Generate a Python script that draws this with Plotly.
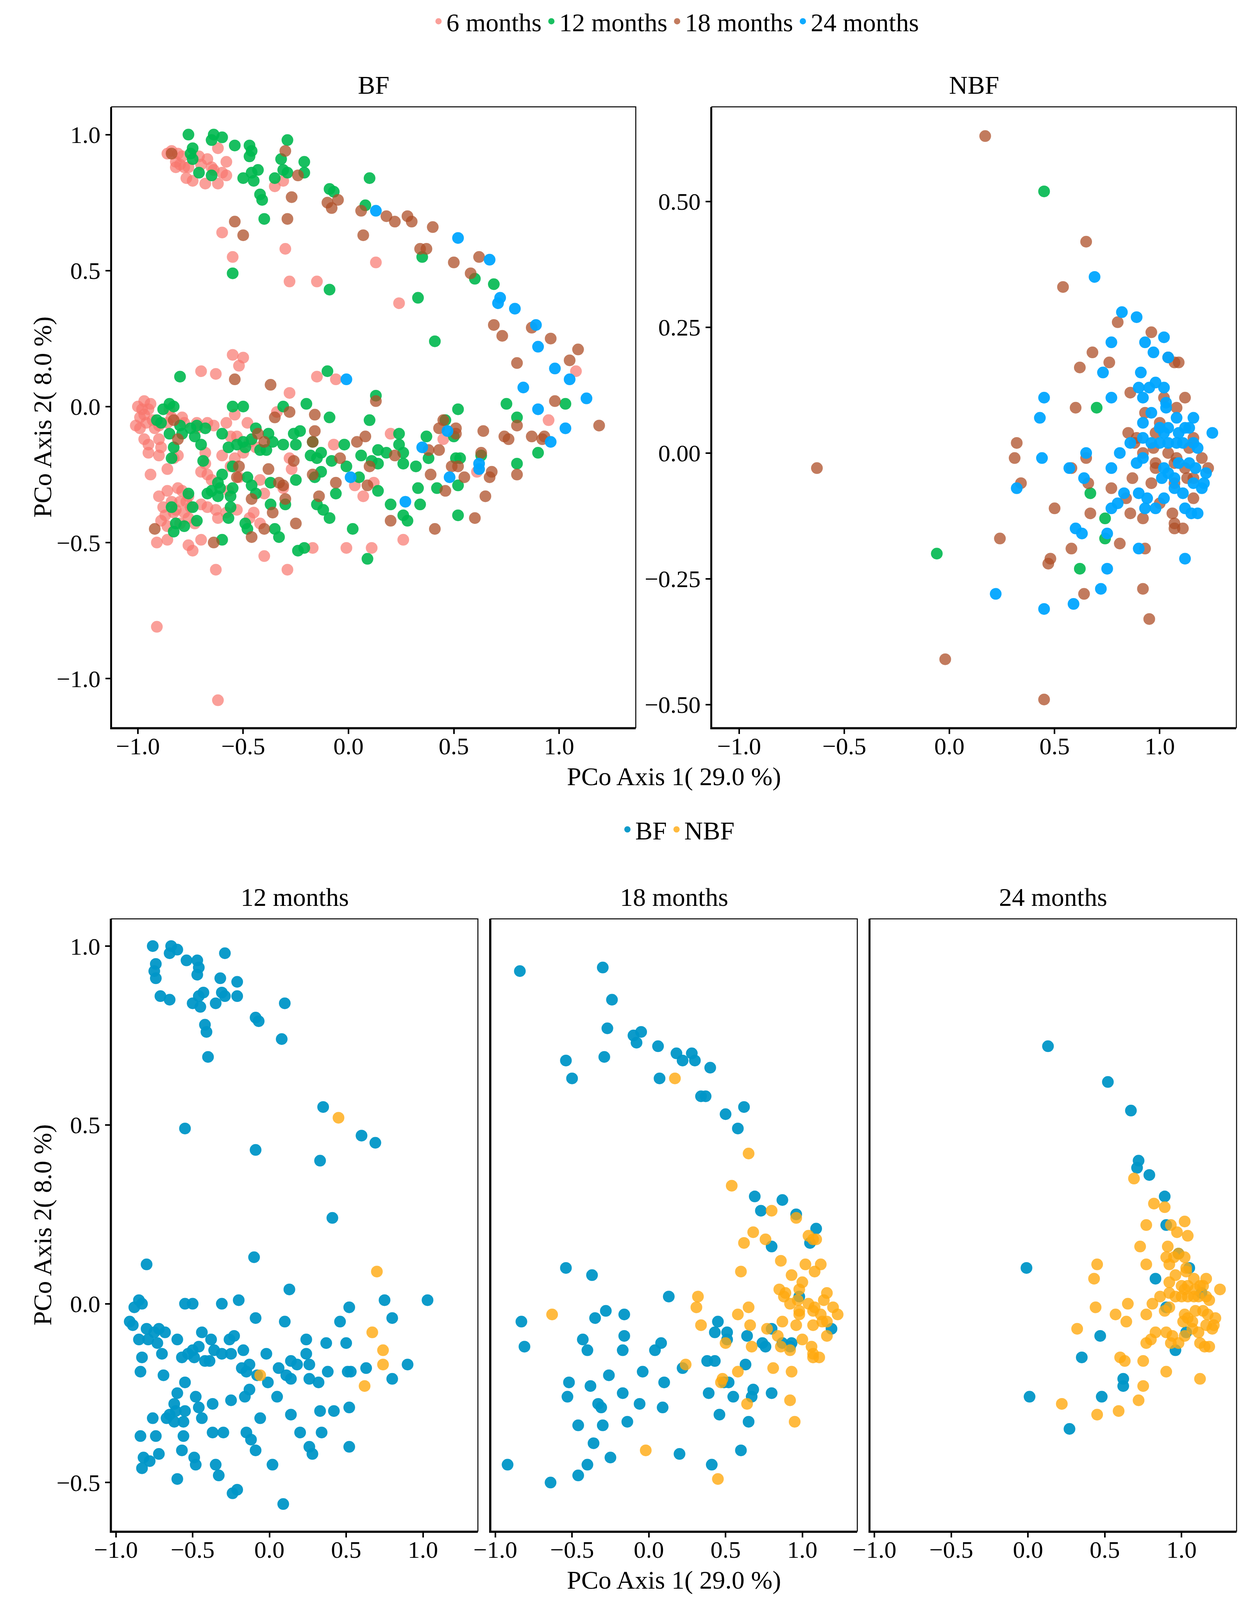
import plotly.graph_objects as go

# PCoA coordinates (axis 1, axis 2), per age and feeding group
BF_6M = [(-0.86,0.93),(-0.84,0.94),(-0.81,0.93),(-0.79,0.92),(-0.82,0.90),(-0.80,0.89),(-0.82,0.88),(-0.78,0.88),
         (-0.76,0.88),(-0.71,0.92),(-0.67,0.91),(-0.70,0.89),(-0.65,0.88),(-0.64,0.87),(-0.60,0.86),(-0.58,0.85),
         (-0.77,0.84),(-0.74,0.83),(-0.68,0.82),(-0.62,0.82),(-0.58,0.90),(-0.62,0.95),(-0.31,0.83),(-0.35,0.81),
         (-0.60,0.64),(-0.55,0.55),(-0.30,0.58),(-0.28,0.46),(-0.15,0.46),(0.13,0.53),(0.24,0.38),(1.08,0.13),
         (-0.55,0.19),(-0.50,0.18),(-0.52,0.15),(-0.70,0.13),(-0.63,0.12),(-0.15,0.11),(-0.06,0.10),(-0.28,0.05),
         (-1.00,0.00),(-0.97,0.02),(-0.98,-0.01),(-0.95,-0.01),(-0.97,-0.03),(-0.94,0.01),(-0.99,-0.04),(-1.01,-0.07),
         (-0.99,-0.08),(-0.96,-0.06),(-0.93,-0.05),(-0.90,-0.07),(-0.92,-0.08),(-0.86,-0.06),(-0.84,-0.04),(-0.79,-0.04),
         (-0.78,-0.06),(-0.85,-0.01),(-0.95,-0.14),(-0.97,-0.12),(-0.89,-0.15),(-0.90,-0.12),(-0.95,-0.17),(-0.90,-0.18),
         (-0.83,-0.19),(-0.81,-0.18),(-0.94,-0.25),(-0.86,-0.23),(-0.67,-0.06),(-0.64,-0.07),(-0.58,-0.06),(-0.72,-0.06),
         (-0.72,-0.08),(-0.68,-0.17),(-0.68,-0.21),(-0.67,-0.25),(-0.65,-0.27),(-0.60,-0.18),(-0.56,-0.11),(-0.54,-0.03),
         (-0.48,-0.06),(-0.54,-0.19),(-0.56,-0.22),(-0.52,-0.26),(-0.57,-0.31),(-0.90,-0.33),(-0.86,-0.31),(-0.81,-0.30),
         (-0.79,-0.31),(-0.76,-0.33),(-0.88,-0.37),(-0.84,-0.35),(-0.80,-0.35),(-0.77,-0.35),(-0.82,-0.38),(-0.78,-0.39),
         (-0.83,-0.39),(-0.75,-0.37),(-0.87,-0.40),(-0.89,-0.42),(-0.86,-0.44),(-0.80,-0.43),(-0.76,-0.41),(-0.73,-0.43),
         (-0.70,-0.36),(-0.67,-0.37),(-0.63,-0.38),(-0.62,-0.41),(-0.58,-0.39),(-0.53,-0.38),(-0.91,-0.50),(-0.86,-0.49),
         (-0.76,-0.51),(-0.74,-0.53),(-0.70,-0.49),(-0.63,-0.60),(-0.47,-0.41),(-0.45,-0.39),(-0.42,-0.43),(-0.40,-0.55),
         (-0.29,-0.60),(-0.17,-0.52),(-0.01,-0.52),(0.11,-0.52),(0.26,-0.49),(-0.91,-0.81),(-0.62,-1.08),(-0.40,-0.32),
         (-0.34,-0.02),(-0.28,-0.19),(-0.27,-0.23),(-0.07,-0.14),(0.03,-0.29),(0.07,-0.33),(0.20,-0.10),(0.45,-0.12),
         (0.95,-0.05),(0.61,-0.24),(0.12,-0.28),(-0.31,-0.30),(-0.42,-0.27),(-0.50,-0.17),(-0.44,-0.15),(-0.53,-0.11),
         (-0.47,-0.13),(-0.70,-0.24)]

BF_12M = [(-0.76,1.00),(-0.64,1.00),(-0.65,0.98),(-0.60,0.99),(-0.54,0.96),(-0.47,0.96),(-0.46,0.94),(-0.47,0.92),
          (-0.29,0.98),(-0.74,0.95),(-0.75,0.93),(-0.74,0.91),(-0.71,0.86),(-0.65,0.85),(-0.50,0.84),(-0.45,0.83),
          (-0.46,0.86),(-0.43,0.87),(-0.35,0.84),(-0.32,0.91),(-0.31,0.87),(-0.29,0.86),(-0.21,0.90),(-0.21,0.86),
          (-0.42,0.78),(-0.41,0.76),(-0.40,0.69),(-0.09,0.80),(-0.07,0.79),(0.10,0.84),(0.08,0.74),(-0.55,0.49),
          (-0.09,0.43),(0.35,0.55),(0.33,0.40),(0.60,0.47),(0.69,0.45),(0.41,0.24),(-0.80,0.11),(-0.10,0.13),
          (0.13,0.04),(1.03,0.01),(-0.85,0.01),(-0.83,0.00),(-0.88,-0.01),(-0.91,-0.05),(-0.89,-0.06),(-0.80,-0.07),
          (-0.79,-0.10),(-0.85,-0.10),(-0.75,-0.08),(-0.72,-0.07),(-0.73,-0.11),(-0.70,-0.14),(-0.68,-0.08),(-0.60,-0.10),
          (-0.83,-0.15),(-0.84,-0.19),(-0.69,-0.20),(-0.55,0.00),(-0.50,0.00),(-0.44,-0.08),(-0.38,-0.10),(-0.46,-0.12),
          (-0.50,-0.13),(-0.53,-0.14),(-0.57,-0.15),(-0.49,-0.15),(-0.42,-0.16),(-0.39,-0.16),(-0.36,-0.13),(-0.31,0.00),
          (-0.31,-0.14),(-0.26,-0.10),(-0.23,-0.09),(-0.25,-0.14),(-0.20,0.01),(-0.09,-0.04),(-0.17,-0.13),(-0.13,-0.17),
          (-0.18,-0.18),(-0.15,-0.19),(-0.02,-0.14),(-0.08,-0.20),(-0.01,-0.22),(0.10,-0.05),(0.06,-0.18),(0.11,-0.20),
          (0.14,-0.16),(0.14,-0.21),(0.18,-0.17),(0.24,-0.10),(0.24,-0.14),(0.26,-0.17),(0.26,-0.21),(0.32,-0.22),
          (0.37,-0.11),(0.38,-0.19),(0.52,-0.01),(0.46,-0.05),(0.50,-0.11),(0.51,-0.19),(0.53,-0.19),(0.63,-0.18),
          (0.75,0.01),(0.80,-0.04),(0.80,-0.21),(0.90,-0.17),(-0.60,-0.25),(-0.55,-0.22),(-0.62,-0.28),(-0.61,-0.30),
          (-0.56,-0.33),(-0.55,-0.30),(-0.67,-0.32),(-0.62,-0.33),(-0.65,-0.31),(-0.56,-0.37),(-0.74,-0.37),(-0.76,-0.32),
          (-0.84,-0.37),(-0.82,-0.43),(-0.83,-0.46),(-0.78,-0.44),(-0.72,-0.42),(-0.57,-0.41),(-0.49,-0.43),(-0.48,-0.45),
          (-0.35,-0.45),(-0.33,-0.48),(-0.60,-0.49),(-0.48,-0.26),(-0.46,-0.29),(-0.44,-0.32),(-0.37,-0.28),(-0.25,-0.27),
          (-0.37,-0.36),(-0.30,-0.36),(-0.16,-0.26),(-0.13,-0.24),(-0.15,-0.36),(-0.12,-0.38),(-0.09,-0.41),(-0.06,-0.32),
          (0.05,-0.26),(0.02,-0.45),(0.14,-0.31),(0.20,-0.36),(0.26,-0.40),(0.28,-0.42),(0.33,-0.30),(0.34,-0.36),
          (0.42,-0.30),(0.52,-0.29),(0.52,-0.40),(-0.24,-0.53),(-0.21,-0.52),(0.09,-0.56)]

NBF_12M = [(0.45,0.52),(0.70,0.09),(0.67,-0.08),(0.74,-0.13),(0.74,-0.17),(0.62,-0.23),(-0.06,-0.20)]

BF_18M = [(-0.30,0.94),(-0.24,0.85),(-0.27,0.77),(-0.10,0.75),(-0.05,0.76),(-0.08,0.73),(-0.29,0.69),(-0.54,0.68),
          (-0.50,0.63),(0.06,0.72),(0.18,0.70),(0.22,0.68),(0.28,0.70),(0.30,0.68),(0.40,0.66),(0.07,0.63),
          (0.34,0.58),(0.37,0.58),(0.50,0.53),(0.62,0.55),(0.58,0.49),(0.69,0.30),(0.73,0.26),(0.87,0.29),
          (0.96,0.25),(1.09,0.21),(0.80,0.16),(1.05,0.17),(-0.54,0.10),(-0.37,0.08),(0.98,0.02),(0.13,0.02),
          (-0.84,0.93),(-0.35,-0.04),(-0.28,-0.02),(-0.16,-0.03),(-0.16,-0.09),(-0.17,-0.13),(-0.43,-0.10),(-0.40,-0.13),
          (-0.83,-0.05),(-0.81,-0.12),(-0.52,-0.22),(-0.53,-0.26),(-0.46,-0.34),(-0.46,-0.48),(-0.64,-0.50),(-0.92,-0.45),
          (-0.38,-0.23),(-0.33,-0.28),(-0.31,-0.29),(-0.30,-0.34),(-0.36,-0.39),(-0.40,-0.45),(-0.25,-0.43),(-0.26,-0.20),
          (-0.17,-0.25),(-0.14,-0.33),(-0.06,-0.28),(-0.04,-0.19),(0.04,-0.13),(0.08,-0.11),(0.10,-0.22),(0.09,-0.29),
          (0.22,-0.18),(0.20,-0.42),(0.38,-0.16),(0.43,-0.16),(0.43,-0.08),(0.45,-0.05),(0.51,-0.08),(0.51,-0.10),
          (0.49,-0.22),(0.52,-0.22),(0.39,-0.25),(0.55,-0.26),(0.46,-0.31),(0.41,-0.45),(0.60,-0.41),(0.63,-0.17),
          (0.64,-0.09),(0.65,-0.33),(0.68,-0.24),(0.67,-0.26),(0.74,-0.11),(0.76,-0.12),(0.80,-0.07),(0.80,-0.25),
          (0.87,-0.11),(0.92,-0.12),(0.93,-0.11),(1.19,-0.07)]

NBF_18M = [(0.17,0.63),(0.65,0.42),(0.54,0.33),(0.80,0.26),(0.96,0.24),(0.68,0.20),(0.62,0.17),(0.76,0.18),
           (1.04,0.19),(1.07,0.18),(1.09,0.18),(0.86,0.12),(1.02,0.11),(1.12,0.11),(0.60,0.09),(1.08,0.09),
           (0.93,0.08),(0.98,0.04),(1.00,0.06),(0.85,0.04),(0.89,0.03),(1.16,0.03),(0.88,0.02),(0.97,0.01),
           (0.92,0.00),(0.32,0.02),(0.31,-0.01),(0.65,-0.01),(1.04,0.00),(1.14,0.01),(0.98,-0.02),(1.08,-0.01),
           (1.20,-0.01),(0.58,-0.03),(0.98,-0.03),(1.07,-0.02),(1.12,-0.03),(1.23,-0.03),(1.13,-0.05),(1.16,-0.05),
           (0.66,-0.06),(0.87,-0.05),(0.96,-0.06),(0.77,-0.07),(0.34,-0.06),(1.07,-0.06),(0.84,-0.09),(1.16,-0.09),
           (1.00,-0.10),(0.50,-0.11),(0.67,-0.12),(0.86,-0.12),(0.92,-0.13),(1.06,-0.12),(1.07,-0.14),(1.07,-0.15),
           (1.11,-0.15),(0.24,-0.17),(0.58,-0.19),(0.81,-0.18),(0.93,-0.19),(0.48,-0.21),(0.47,-0.22),(0.64,-0.28),
           (0.92,-0.27),(0.95,-0.33),(-0.63,-0.03),(-0.02,-0.41),(0.45,-0.49)]

BF_24M = [(0.13,0.72),(0.52,0.62),(0.67,0.54),(0.72,0.40),(0.71,0.38),(0.79,0.36),(0.89,0.30),(0.90,0.22),
          (0.98,0.14),(1.05,0.10),(0.83,0.07),(1.13,0.03),(-0.01,0.10),(0.90,-0.01),(1.03,-0.08),(0.96,-0.13),
          (0.47,-0.09),(0.35,-0.15),(0.62,-0.21),(0.62,-0.23),(0.48,-0.26),(0.27,-0.35),(0.01,-0.26)]

NBF_24M = [(0.69,0.35),(0.82,0.28),(0.89,0.27),(0.77,0.22),(1.02,0.23),(0.93,0.22),(0.97,0.20),(1.04,0.19),
           (0.73,0.16),(0.91,0.16),(0.90,0.13),(0.95,0.13),(0.98,0.14),(1.02,0.13),(0.45,0.11),(0.77,0.11),
           (0.92,0.11),(1.03,0.10),(0.96,0.08),(1.03,0.09),(1.08,0.07),(1.16,0.07),(0.43,0.07),(0.92,0.06),
           (1.00,0.05),(1.04,0.05),(1.02,0.04),(1.09,0.04),(1.12,0.05),(1.14,0.05),(1.25,0.04),(0.86,0.02),
           (0.92,0.03),(0.96,0.02),(1.00,0.02),(1.04,0.02),(1.08,0.02),(1.11,0.02),(1.16,0.02),(1.18,0.01),
           (0.65,0.00),(0.81,0.00),(0.44,-0.01),(0.57,-0.03),(0.77,-0.03),(0.89,-0.02),(0.92,-0.01),(0.64,-0.05),
           (1.02,-0.03),(1.04,-0.04),(1.09,-0.02),(1.14,-0.02),(1.17,-0.03),(1.22,-0.04),(1.07,-0.05),(1.01,-0.05),
           (1.16,-0.06),(1.21,-0.06),(1.20,-0.07),(0.32,-0.07),(0.83,-0.08),(0.90,-0.08),(0.94,-0.09),(1.07,-0.07),
           (1.11,-0.08),(1.02,-0.09),(0.77,-0.11),(0.80,-0.10),(0.93,-0.11),(0.98,-0.11),(1.12,-0.11),(1.15,-0.12),
           (1.18,-0.12),(0.60,-0.15),(0.63,-0.16),(0.75,-0.16),(0.90,-0.19),(1.12,-0.21),(0.75,-0.23),(0.72,-0.27),
           (0.22,-0.28),(0.59,-0.30),(0.45,-0.31)]

AGE_LABELS = ["6 months", "12 months", "18 months", "24 months"]
AGE_COLORS = ["#F8766D", "#00B84F", "#AD4F28", "#00A5FF"]
AGE_OPACITY = [0.7, 0.9, 0.75, 0.95]
GROUP_LABELS = ["BF", "NBF"]
GROUP_COLORS = ["#0096C7", "#FFA90F"]
GROUP_OPACITY = [0.95, 0.8]

FONT = "Liberation Serif"
MS = 30

bf_by_age = [BF_6M, BF_12M, BF_18M, BF_24M]
nbf_by_age = [[], NBF_12M, NBF_18M, NBF_24M]


def xs(pts):
    return [p[0] for p in pts]


def ys(pts):
    return [p[1] for p in pts]


fig = go.Figure()

# top: coloured by age, faceted by feeding
for i, lab in enumerate(AGE_LABELS):
    mk = dict(color=AGE_COLORS[i], size=MS, opacity=AGE_OPACITY[i], line=dict(width=0))
    fig.add_trace(go.Scatter(x=xs(bf_by_age[i]), y=ys(bf_by_age[i]), mode="markers", marker=mk,
                             name=lab, legendgroup=lab, xaxis="x", yaxis="y", legend="legend"))
    fig.add_trace(go.Scatter(x=xs(nbf_by_age[i]), y=ys(nbf_by_age[i]), mode="markers", marker=mk,
                             name=lab, legendgroup=lab, showlegend=False, xaxis="x2", yaxis="y2"))

# bottom: coloured by feeding, faceted by age
for j, age in enumerate([1, 2, 3]):
    ax = str(j + 3)
    for g, pts in enumerate([bf_by_age[age], nbf_by_age[age]]):
        fig.add_trace(go.Scatter(
            x=xs(pts), y=ys(pts), mode="markers",
            marker=dict(color=GROUP_COLORS[g], size=MS, opacity=GROUP_OPACITY[g], line=dict(width=0)),
            name=GROUP_LABELS[g], showlegend=(j == 0), xaxis="x" + ax, yaxis="y" + ax, legend="legend2"))

tickfont = dict(family=FONT, size=62, color="black")
base_axis = dict(showgrid=False, zeroline=False, showline=True, linecolor="black", linewidth=4,
                 ticks="outside", ticklen=12, tickwidth=4, tickcolor="black", tickfont=tickfont)
x_axis = dict(base_axis, ticklabelstandoff=-22)

top_x = [-1.0, -0.5, 0.0, 0.5, 1.0]
fig.update_layout(
    xaxis=dict(x_axis, domain=[0.0762, 0.5012], range=[-1.125, 1.364], tickvals=top_x,
               tickformat=".1f", anchor="y"),
    yaxis=dict(base_axis, domain=[0.5452, 0.9332], range=[-1.181, 1.102], tickvals=top_x,
               tickformat=".1f", anchor="x"),
    xaxis2=dict(x_axis, domain=[0.5628, 0.9881], range=[-1.13, 1.364], tickvals=top_x,
                tickformat=".1f", anchor="y2"),
    yaxis2=dict(base_axis, domain=[0.5452, 0.9332], range=[-0.546, 0.688],
                tickvals=[-0.5, -0.25, 0.0, 0.25, 0.5], tickformat=".2f", anchor="x2"),
)

bottom_dom = [[0.0761, 0.3732], [0.3837, 0.6808], [0.6911, 0.9883]]
for j in range(3):
    n = str(j + 3)
    fig.update_layout({
        "xaxis" + n: dict(x_axis, domain=bottom_dom[j], range=[-1.029, 1.358], tickvals=top_x,
                          tickformat=".1f", anchor="y" + n),
        "yaxis" + n: dict(base_axis, domain=[0.0430, 0.4257], range=[-0.636, 1.076],
                          tickvals=[-0.5, 0.0, 0.5, 1.0], tickformat=".1f", anchor="x" + n,
                          showticklabels=(j == 0), ticks="outside" if j == 0 else ""),
    })

# thin panel borders
shapes = []
for xa, ya in [("x", "y"), ("x2", "y2"), ("x3", "y3"), ("x4", "y4"), ("x5", "y5")]:
    shapes.append(dict(type="rect", xref=xa + " domain", yref=ya + " domain", x0=0, x1=1, y0=0, y1=1,
                       line=dict(color="black", width=2.5), fillcolor="rgba(0,0,0,0)", layer="above"))

txt = dict(family=FONT, size=66, color="black")


def strip(text, xa, ya):
    # facet label, a fixed distance above its panel
    return dict(text=text, x=0.5, y=1, xref=xa + " domain", yref=ya + " domain", showarrow=False,
                font=txt, xanchor="center", yanchor="middle", yshift=56)


def xtitle(ya):
    return dict(text="PCo Axis 1( 29.0 %)", x=0.532, y=0, xref="paper", yref=ya + " domain",
                showarrow=False, font=txt, xanchor="center", yanchor="top", yshift=-86)


def ytitle(ya):
    return dict(text="PCo Axis 2( 8.0 %)", x=0.0203, y=0.5, xref="paper", yref=ya + " domain",
                showarrow=False, font=txt, xanchor="center", yanchor="middle", textangle=-90)


annotations = [
    strip("BF", "x", "y"), strip("NBF", "x2", "y2"),
    strip("12 months", "x3", "y3"), strip("18 months", "x4", "y4"), strip("24 months", "x5", "y5"),
    xtitle("y"), xtitle("y3"), ytitle("y"), ytitle("y3"),
]

# size follows the browser window
fig.update_layout(
    autosize=True,
    margin=dict(l=0, r=0, t=0, b=0),
    paper_bgcolor="white", plot_bgcolor="white",
    font=dict(family=FONT, color="black"),
    shapes=shapes, annotations=annotations,
    legend=dict(orientation="h", x=0.5337, y=0.9867, xanchor="center", yanchor="middle",
                font=txt, itemwidth=30, bgcolor="rgba(0,0,0,0)"),
    legend2=dict(orientation="h", x=0.5356, y=0.4816, xanchor="center", yanchor="middle",
                 font=txt, itemwidth=30, bgcolor="rgba(0,0,0,0)"),
)

fig.write_html(
    "out.html",
    config={"responsive": True, "displayModeBar": False},
    post_script="document.body.style.margin='0';document.body.style.overflow='hidden';"
                "Plotly.Plots.resize(document.getElementById('{plot_id}'));",
)
